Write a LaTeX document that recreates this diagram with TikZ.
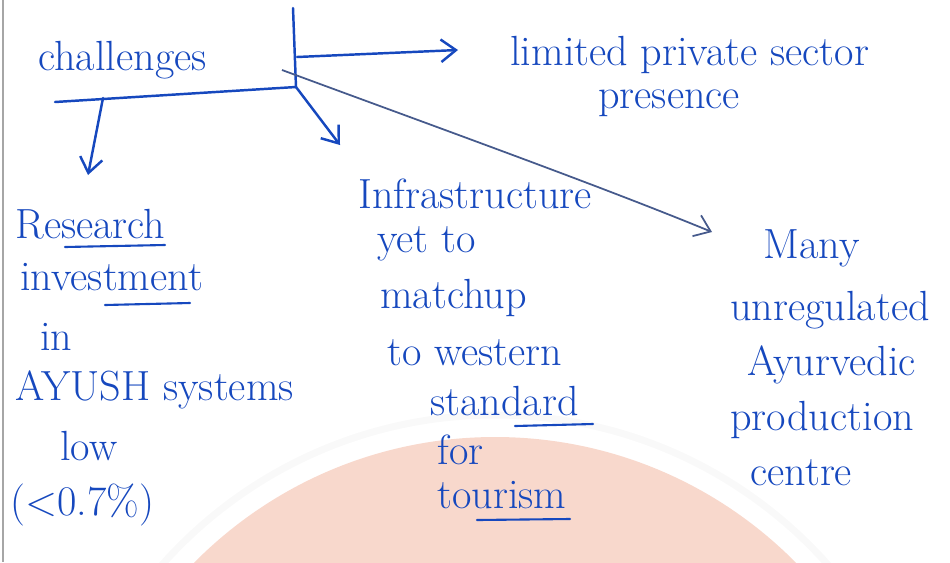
\documentclass[tikz,border=0pt]{standalone}
\usepackage{tikz}
\usetikzlibrary{arrows.meta}
\definecolor{ink}{RGB}{22,72,190}
\definecolor{pencil}{RGB}{70,90,140}
\definecolor{peach}{RGB}{248,216,204}
\tikzset{
  hand/.style={ink, anchor=base west, inner sep=0pt, font=\fontsize{24}{28}\selectfont},
  pen/.style={ink, line width=1.4pt, line cap=round},
  uline/.style={ink, line width=1.2pt, line cap=round},
}
\begin{document}
\begin{tikzpicture}[x=0.2mm,y=-0.2mm,>={Straight Barb[length=3mm,width=4.5mm]}]
  \useasboundingbox (0,0) rectangle (950,562);
  % fondo: sello de agua
  \begin{scope}
    \clip (0,0) rectangle (950,562);
    \fill[peach] (495,860) circle (423);
    \draw[gray!5, line width=4pt] (495,860) circle (445);
  \end{scope}
  \draw[gray!70, line width=1pt] (3,0) -- (3,562);

  % titulo
  \node[hand] (chal) at (38,70) {challenges};

  % rama derecha
  \node[hand] (lim1) at (510,65) {limited private sector};
  \node[hand] (lim2) at (598,108) {presence};

  % rama izquierda
  \foreach \t/\x/\y [count=\i] in {Research/15/238, investment/20/290, in/40/350,
      AYUSH systems/15/400, low/60/460, (<0.7\%)/10/515}
    \node[hand] (res\i) at (\x,\y) {\t};
  \draw[uline] (65,247) -- (165,245);
  \draw[uline] (105,305) -- (190,303);

  % rama central
  \foreach \t/\x/\y [count=\i] in {Infrastructure/358/208, yet to/377/252, matchup/380/308,
      to western/387/365, standard/430/415, for/437/464, tourism/437/508}
    \node[hand] (inf\i) at (\x,\y) {\t};
  \draw[uline] (515,426) -- (593,424);
  \draw[uline] (477,520) -- (570,519);

  % rama diagonal
  \foreach \t/\x/\y [count=\i] in {Many/763/258, unregulated/730/320, Ayurvedic/747/375,
      production/730/430, centre/750/485}
    \node[hand] (many\i) at (\x,\y) {\t};

  % conectores
  \coordinate (top) at (293,8);
  \coordinate (hub) at (296,87);
  \coordinate (mid) at (297,57);
  \coordinate (left) at (55,102);
  \coordinate (drop) at (103,98);
  \coordinate (start) at (282,70);
  \coordinate (limend) at (458,50);
  \coordinate (resend) at (88,175);
  \coordinate (infend) at (340,145);
  \coordinate (manyend) at (712,232);
  \draw[pen] (top) -- (hub);
  \draw[pen,->] (mid) -- (limend);
  \draw[pen] (left) -- (hub);
  \draw[pen,->] (drop) -- (resend);
  \draw[pen,->] (hub) -- (infend);
  \draw[pencil, line width=1pt, ->] (start) .. controls (450,132) and (600,186) .. (manyend);
\end{tikzpicture}
\end{document}
